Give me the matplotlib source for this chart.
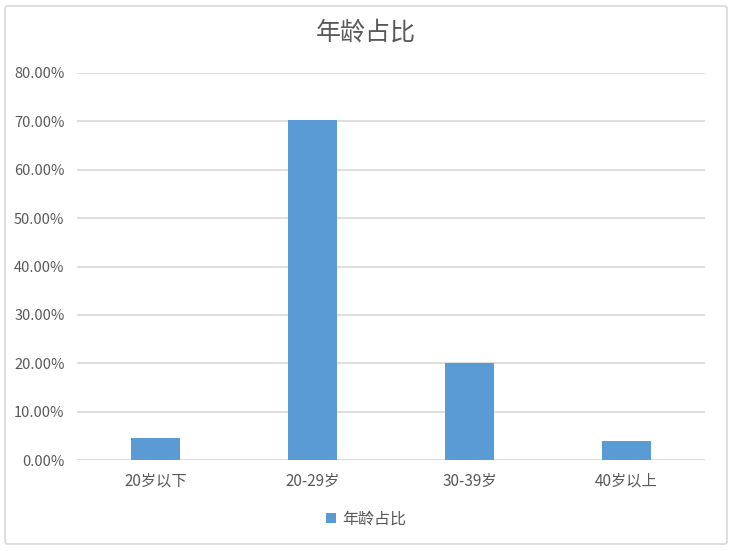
import matplotlib
matplotlib.use("Agg")
import matplotlib.pyplot as plt
from matplotlib.patches import FancyBboxPatch
from matplotlib.ticker import PercentFormatter

plt.rcParams['font.family'] = ['Noto Sans CJK SC', 'DejaVu Sans']

categories = ["20岁以下", "20-29岁", "30-39岁", "40岁以上"]
values = [0.0465, 0.702, 0.2015, 0.0385]
series_name = "年龄占比"
title = "年龄占比"

text_color = "#595959"
bar_color = "#5B9BD5"
grid_color = "#D9D9D9"

fig = plt.figure(figsize=(7.32, 5.51), dpi=100)
fig.patch.set_facecolor("white")
border = FancyBboxPatch((5/732, 7/551), 722/732, 538/551,
                        boxstyle="round,pad=0,rounding_size=0.004",
                        transform=fig.transFigure, facecolor="white",
                        edgecolor=grid_color, linewidth=1.2, zorder=-10)
fig.patches.append(border)

ax = fig.add_axes([77/732, 1-460/551, 628/732, 387/551])
ax.set_zorder(5)
ax.set_facecolor("none")
x = list(range(len(categories)))
ax.bar(x, values, width=0.31, color=bar_color, zorder=3, label=series_name)
ax.set_xlim(-0.5, len(categories) - 0.5)
ax.set_ylim(0, 0.8)
ax.set_yticks([i / 10 for i in range(9)])
ax.yaxis.set_major_formatter(PercentFormatter(1.0, decimals=2))
ax.set_xticks(x)
ax.set_xticklabels(categories)
ax.grid(axis='y', color=grid_color, linewidth=1.2, zorder=0)
for s in ax.spines.values():
    s.set_visible(False)
ax.tick_params(axis='both', length=0, colors=text_color, labelsize=11)
ax.tick_params(axis='y', pad=9, labelsize=10.5)
ax.tick_params(axis='x', pad=9)

fig.text(0.5, 1-33/551, title, ha='center', va='center', fontsize=18, color=text_color)

leg = fig.legend(loc='center', bbox_to_anchor=(0.5, 1-519/551), frameon=False,
                 fontsize=11.5, handlelength=0.6, handleheight=0.6, handletextpad=0.4)
for t in leg.get_texts():
    t.set_color(text_color)

fig.savefig("out.png", dpi=100)
